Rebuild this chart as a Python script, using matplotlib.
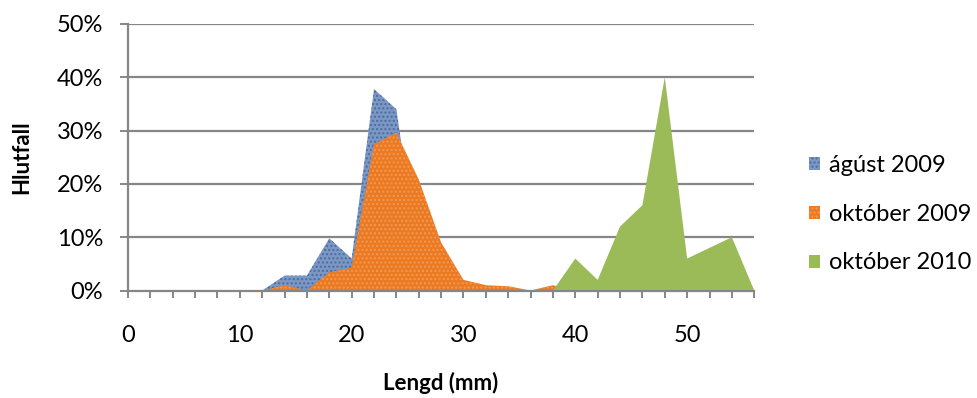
import matplotlib.pyplot as plt
from matplotlib.patches import Patch
from matplotlib.ticker import FuncFormatter

plt.rcParams.update({"font.family": ["Lato", "DejaVu Sans"], "hatch.linewidth": 1.0})

GRID = "#868686"
BLUE, BLUE_DOT = "#7b97c4", "#4c6c9e"
ORANGE, ORANGE_DOT = "#eb7a22", "#f29a55"
GREEN = "#9bbb59"

# length classes (mm) and share per class (%)
lengd = list(range(0, 57, 2))
agust_2009 = [0, 0, 0, 0, 0, 0, 0, 2.8, 2.8, 9.8, 6.0, 37.8, 34.0, 5.0, 2.5, 0.5,
              0, 0, 0, 0, 0, 0, 0, 0, 0, 0, 0, 0, 0]
oktober_2009 = [0, 0, 0, 0, 0, 0, 0, 1.0, 0, 3.4, 4.3, 27.4, 29.6, 20.8, 9.0, 2.0,
                1.0, 0.8, 0, 1.0, 0, 0, 0, 0, 0, 0, 0, 0, 0]
oktober_2010 = [0, 0, 0, 0, 0, 0, 0, 0, 0, 0, 0, 0, 0, 0, 0, 0,
                0, 0, 0, 0, 6.0, 2.0, 12.0, 16.0, 40.0, 6.0, 8.0, 10.0, 0]
series_names = ["ágúst 2009", "október 2009", "október 2010"]
y_ticks = [0, 10, 20, 30, 40, 50]
x_labels = [0, 10, 20, 30, 40, 50]

fig = plt.figure(figsize=(9.77, 3.98), dpi=100)
ax = fig.add_axes([0.131, 0.270, 0.641, 0.670])

ax.fill_between(lengd, 0, agust_2009, facecolor=BLUE, edgecolor=BLUE_DOT,
                hatch="....", linewidth=0, zorder=2)
ax.fill_between(lengd, 0, oktober_2009, facecolor=ORANGE, edgecolor=ORANGE_DOT,
                hatch="....", linewidth=0, zorder=3)
ax.fill_between(lengd, 0, oktober_2010, facecolor=GREEN, linewidth=0, zorder=4)

ax.set_xlim(0, 56)
ax.set_ylim(0, 50)
ax.set_yticks(y_ticks)
ax.yaxis.set_major_formatter(FuncFormatter(lambda v, p: f"{v:.0f}%"))
ax.set_xticks(lengd)
ax.set_xticklabels([str(v) if v in x_labels else "" for v in lengd])

for v in y_ticks[1:]:
    ax.axhline(v, color=GRID, lw=1.6, zorder=1)

for s in ["top", "right"]:
    ax.spines[s].set_visible(False)
for s in ["left", "bottom"]:
    ax.spines[s].set_color(GRID)
    ax.spines[s].set_linewidth(1.6)
    ax.spines[s].set_zorder(5)
ax.tick_params(axis="y", length=6, width=1.4, color=GRID, pad=12, labelsize=17)
ax.tick_params(axis="x", length=5, width=1.4, color=GRID, pad=20, labelsize=17)

ax.set_ylabel("Hlutfall", fontsize=16, fontweight="bold", va="center")
ax.yaxis.set_label_coords(-0.169, 0.5)
ax.set_xlabel("Lengd (mm)", fontsize=16, fontweight="bold", va="center")
ax.xaxis.set_label_coords(0.5, -0.347)

handles = [Patch(facecolor=BLUE, edgecolor=BLUE_DOT, hatch="....", linewidth=0),
           Patch(facecolor=ORANGE, edgecolor=ORANGE_DOT, hatch="....", linewidth=0),
           Patch(facecolor=GREEN, linewidth=0)]
fig.legend(handles, series_names, loc="center left", bbox_to_anchor=(0.828, 0.462),
           frameon=False, fontsize=17, handlelength=0.47, handleheight=0.47,
           handletextpad=0.38, labelspacing=1.18, borderpad=0, borderaxespad=0)

fig.savefig("out.png", dpi=100, facecolor="white")
